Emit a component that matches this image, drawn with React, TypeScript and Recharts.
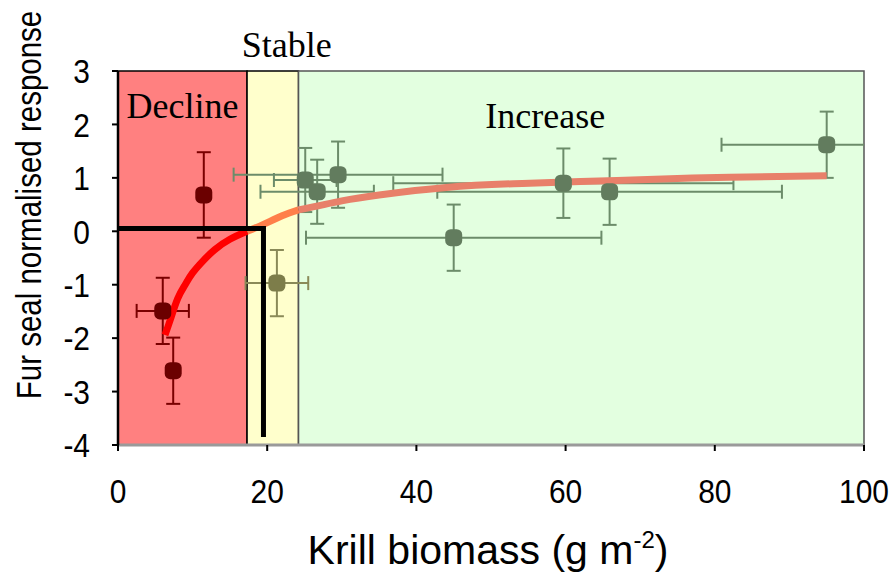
import React from "react";
import {
  ComposedChart,
  Line,
  Scatter,
  ErrorBar,
  XAxis,
  YAxis,
  ReferenceArea,
  Label,
} from "recharts";

// zones along the krill axis
const zoneNames = ["Decline", "Stable", "Increase"];
const zoneFrom = [0, 17.3, 24.2];
const zoneTo = [17.3, 24.2, 100];
const zoneFill = ["#ff8080", "#ffffcc", "#e3ffe0"];

const xTicks = [0, 20, 40, 60, 80, 100];
const yTicks = [-4, -3, -2, -1, 0, 1, 2, 3];

// observed fur seal responses, per zone
const declineX = [11.5, 6.0, 7.4];
const declineY = [0.68, -1.49, -2.61];
const declineXErr = [0, 3.5, 0];
const declineYErr = [0.8, 0.62, 0.62];

const stableX = [21.3];
const stableY = [-0.97];
const stableXErr = [4.2];
const stableYErr = [0.62];

const increaseX = [25.1, 26.7, 29.5, 45.0, 59.7, 65.9, 95.0];
const increaseY = [0.96, 0.74, 1.06, -0.12, 0.9, 0.74, 1.62];
const increaseXErr = [4.2, 7.6, 14.0, 19.8, 22.8, 23.1, 14.1];
const increaseYErr = [0.6, 0.6, 0.62, 0.62, 0.65, 0.62, 0.62];

// fitted curve
const fitDeclineX = [6.3, 7, 8, 9, 10, 11.5, 13, 15, 17.3];
const fitDeclineY = [-1.94, -1.66, -1.26, -1.0, -0.78, -0.54, -0.34, -0.15, 0];
const fitStableX = [17.3, 19.5, 22, 24.2];
const fitStableY = [0, 0.13, 0.29, 0.4];
const fitIncreaseX = [24.2, 30, 35, 44, 53, 62, 73, 82, 95];
const fitIncreaseY = [0.4, 0.57, 0.68, 0.82, 0.89, 0.93, 0.98, 1.01, 1.04];

// threshold marker
const thresholdX = [0, 19.5, 19.5];
const thresholdY = [0.05, 0.05, -3.85];

const pts = (xs: number[], ys: number[], exs?: number[], eys?: number[]) =>
  xs.map((x, i) => ({ x, y: ys[i], ex: exs ? exs[i] : 0, ey: eys ? eys[i] : 0 }));

const sans = "'Liberation Sans', Arial, sans-serif";
const serif = "'Liberation Serif', 'Times New Roman', serif";

const marker = (color: string) => (p: any) =>
  <rect x={p.cx - 8.5} y={p.cy - 8.5} width={17} height={17} rx={5.5} fill={color} />;

const zoneLabel = (text: string, dx: number, dy: number, withClip: boolean) => (p: any) => {
  const vb = p.viewBox;
  return (
    <g>
      {withClip && (
        <defs>
          <clipPath id="plotClip">
            <rect x={118} y={71} width={746} height={374} />
          </clipPath>
        </defs>
      )}
      <text x={vb.x + vb.width / 2 + dx} y={vb.y + dy} textAnchor="middle"
        fontFamily={serif} fontSize={36} fill="#000">{text}</text>
    </g>
  );
};

const labelOffsets = [[0, 47], [14, -14], [-36, 57]];

const xTick = (p: any) => (
  <text transform={`translate(${p.x},${p.y}) scale(0.88,1)`} textAnchor="middle" dy="0.75em"
    fontFamily={sans} fontSize={34} fill="#000">{p.payload.value}</text>
);
const yTick = (p: any) => (
  <text transform={`translate(${p.x},${p.y}) scale(0.88,1)`} textAnchor="end" dy="0.36em"
    fontFamily={sans} fontSize={34} fill="#000">{p.payload.value}</text>
);

const bar = (color: string) => ({ width: 7, stroke: color, strokeWidth: 2, clipPath: "url(#plotClip)" });

export default function App() {
  return (
    <div style={{ position: "absolute", left: 0, top: 0, background: "#fff" }}>
      <ComposedChart width={894} height={575} margin={{ top: 71, right: 30, bottom: 0, left: 18 }}>
        {zoneNames.map((name, i) => (
          <ReferenceArea key={name} x1={zoneFrom[i]} x2={zoneTo[i]} y1={-4} y2={3}
            fill={zoneFill[i]} fillOpacity={1} stroke={i === 2 ? "#555" : "#000"} strokeWidth={1.5}>
            <Label content={zoneLabel(name, labelOffsets[i][0], labelOffsets[i][1], i === 0)} />
          </ReferenceArea>
        ))}
        <XAxis type="number" dataKey="x" domain={[0, 100]} ticks={xTicks} allowDataOverflow
          height={130} tickSize={6} tickMargin={26}
          axisLine={{ stroke: "#9a9a9a", strokeWidth: 3 }} tickLine={{ stroke: "#000", strokeWidth: 2 }}
          tick={xTick}>
          <Label content={() => (
            <text x={488} y={564} textAnchor="middle" fontFamily={sans} fontSize={41} fill="#000">
              <tspan>Krill biomass (g m</tspan>
              <tspan dy={-16} fontSize={24}>-2</tspan>
              <tspan dy={16}>)</tspan>
            </text>
          )} />
        </XAxis>
        <YAxis type="number" dataKey="y" domain={[-4, 3]} ticks={yTicks} allowDataOverflow
          width={100} tickSize={6} tickMargin={22}
          axisLine={{ stroke: "#000", strokeWidth: 2.5 }} tickLine={{ stroke: "#000", strokeWidth: 2 }}
          tick={yTick}>
          <Label content={() => (
            <text transform="translate(29,205) rotate(-90) scale(1,1.2)" dy="0.35em" textAnchor="middle"
              fontFamily={sans} fontSize={29.5} fill="#000">Fur seal normalised response</text>
          )} />
        </YAxis>

        <Scatter data={pts(increaseX, increaseY, increaseXErr, increaseYErr)} shape={marker("#627c5e")} isAnimationActive={false}>
          <ErrorBar dataKey="ex" direction="x" {...bar("#6c8c6a")} />
          <ErrorBar dataKey="ey" direction="y" {...bar("#6c8c6a")} />
        </Scatter>
        <Scatter data={pts(stableX, stableY, stableXErr, stableYErr)} shape={marker("#7d7d4a")} isAnimationActive={false}>
          <ErrorBar dataKey="ex" direction="x" {...bar("#8a8a58")} />
          <ErrorBar dataKey="ey" direction="y" {...bar("#8a8a58")} />
        </Scatter>
        <Scatter data={pts(declineX, declineY, declineXErr, declineYErr)} shape={marker("#6b0000")} isAnimationActive={false}>
          <ErrorBar dataKey="ex" direction="x" {...bar("#7a0000")} />
          <ErrorBar dataKey="ey" direction="y" {...bar("#7a0000")} />
        </Scatter>

        <Line data={pts(fitDeclineX, fitDeclineY)} dataKey="y" type="natural" stroke="#ff0000" strokeWidth={7}
          dot={false} activeDot={false} isAnimationActive={false} />
        <Line data={pts(fitStableX, fitStableY)} dataKey="y" type="natural" stroke="#ff7f4a" strokeWidth={7}
          dot={false} activeDot={false} isAnimationActive={false} />
        <Line data={pts(fitIncreaseX, fitIncreaseY)} dataKey="y" type="natural" stroke="#e8806a" strokeWidth={7}
          dot={false} activeDot={false} isAnimationActive={false} />
        <Line data={pts(thresholdX, thresholdY)} dataKey="y" type="linear" stroke="#000" strokeWidth={5}
          dot={false} activeDot={false} isAnimationActive={false} />
      </ComposedChart>
    </div>
  );
}
